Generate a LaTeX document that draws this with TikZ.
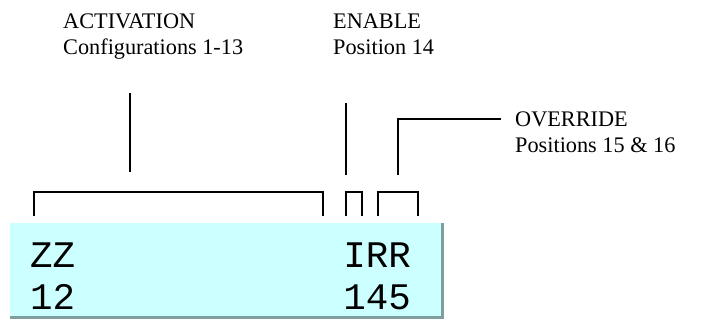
\documentclass[tikz,border=0pt]{standalone}
\usepackage{fontspec}
\setmainfont{Liberation Serif}
\newfontfamily\lcdfont{Liberation Mono}
\definecolor{lcdfill}{HTML}{CCFFFF}
\definecolor{lcdshade}{HTML}{7F9F9F}
\tikzset{
	lbl/.style={anchor=base west,inner sep=0pt,font=\fontsize{19}{23}\selectfont},
	lcdtxt/.style={inner sep=0pt,font=\lcdfont\fontsize{32}{38}\selectfont},
	tick/.style={line width=1.7pt}
}

\begin{document}
\begin{tikzpicture}[x=0.03cm,y=-0.03cm]
	\useasboundingbox (0,0) rectangle (715,322);
	% the display
	\fill[lcdshade] (10,223) rectangle (444,319);
	\fill[lcdfill] (10,223) rectangle (441,316);
	\node[lcdtxt,anchor=base west] (zz) at (30,267) {ZZ};
	\node[lcdtxt,anchor=base west] (twelve) at (30,309) {12};
	\node[lcdtxt,anchor=base east] (irr) at (411,267) {IRR};
	\node[lcdtxt,anchor=base east] (onefourfive) at (411,309) {145};
	% labels
	\node[lbl] (act) at (63,28) {ACTIVATION};
	\node[lbl] (actcfg) at (63,54) {Configurations 1-13};
	\node[lbl] (ena) at (333,28) {ENABLE};
	\node[lbl] (enapos) at (333,54) {Position 14};
	\node[lbl] (ovr) at (515,126) {OVERRIDE};
	\node[lbl] (ovrpos) at (515,152) {Positions 15 \& 16};
	% brackets
	\draw[tick] (34,216) |- (323,192) -- (323,216);
	\draw[tick] (346,216) |- (362,192) -- (362,216);
	\draw[tick] (378,216) |- (418,192) -- (418,216);
	% pointers
	\coordinate (actup) at (130,93);
	\coordinate (actdn) at (130,172);
	\coordinate (enaup) at (346,103);
	\coordinate (enadn) at (346,175);
	\coordinate (ovrdn) at (398,175);
	\coordinate (ovrend) at ([xshift=-12]ovr.west |- 0,119);
	\draw[tick] (actup) -- (actdn);
	\draw[tick] (enaup) -- (enadn);
	\draw[tick] (ovrdn) |- (ovrend);
\end{tikzpicture}
\end{document}
